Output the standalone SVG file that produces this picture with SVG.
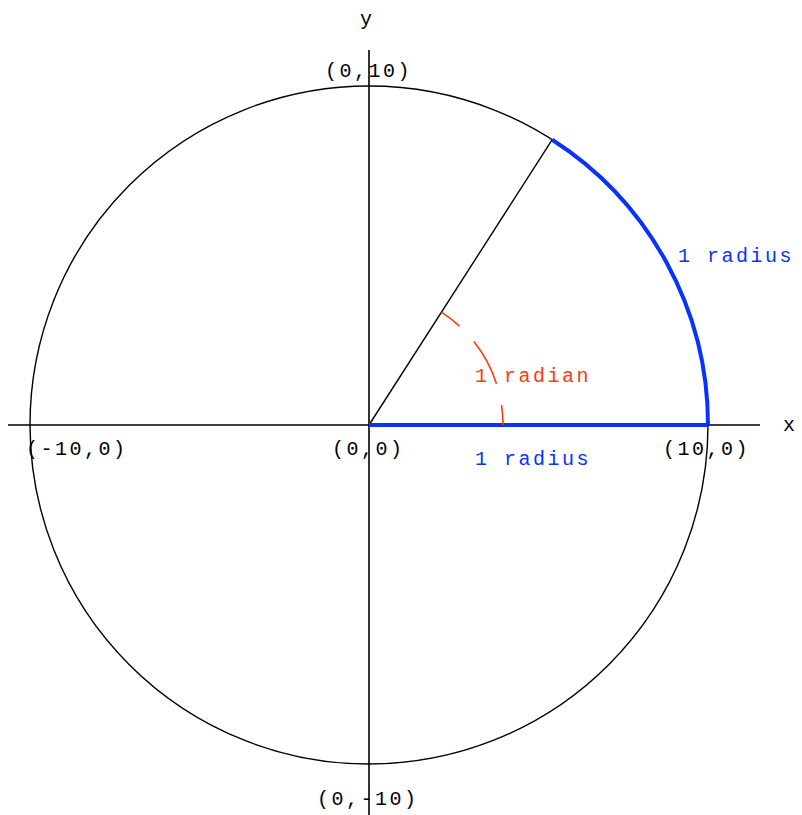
<svg xmlns="http://www.w3.org/2000/svg" width="802" height="815" viewBox="0 0 802 815">
<style>
.lbl{font-family:"Liberation Mono","DejaVu Sans Mono",monospace;font-size:20px;letter-spacing:2.5px}
.blk{fill:#000}
.blu{fill:#0a32ff}
.red{fill:#ff3a10}
</style>
<rect width="802" height="815" fill="#fff"/>
<g id="axes" stroke="#000" stroke-width="1.6" fill="none">
<line x1="8" y1="425" x2="760" y2="425"/>
<line x1="369" y1="50" x2="369" y2="815"/>
</g>
<g id="circle">
<circle cx="369" cy="425" r="339" fill="none" stroke="#000" stroke-width="1.4"/>
</g>
<g id="radius-line">
<line x1="369" y1="425" x2="552.2" y2="139.7" stroke="#000" stroke-width="1.4"/>
</g>
<g id="blue-radius" stroke="#0a32ff" stroke-width="4" fill="none">
<line x1="369" y1="425" x2="708" y2="425"/>
<path d="M708 425 A339 339 0 0 0 552.2 139.7"/>
</g>
<g id="red-angle">
<path d="M503 425 A134 134 0 0 0 441.4 312.2" fill="none" stroke="#ff3a10" stroke-width="1.6" stroke-dasharray="20 22 48 21 23"/>
</g>
<g id="labels">
<text class="lbl blk" x="360" y="25">y</text>
<text class="lbl blk" x="783" y="431">x</text>
<text class="lbl blk" x="325" y="77">(0,10)</text>
<text class="lbl blk" x="26" y="455">(-10,0)</text>
<text class="lbl blk" x="332" y="455">(0,0)</text>
<text class="lbl blk" x="663" y="455">(10,0)</text>
<text class="lbl blk" x="317" y="805">(0,-10)</text>
<text class="lbl blu" x="475" y="465">1 radius</text>
<text class="lbl blu" x="678" y="262">1 radius</text>
<text class="lbl red" x="475" y="382">1 radian</text>
</g>
</svg>
